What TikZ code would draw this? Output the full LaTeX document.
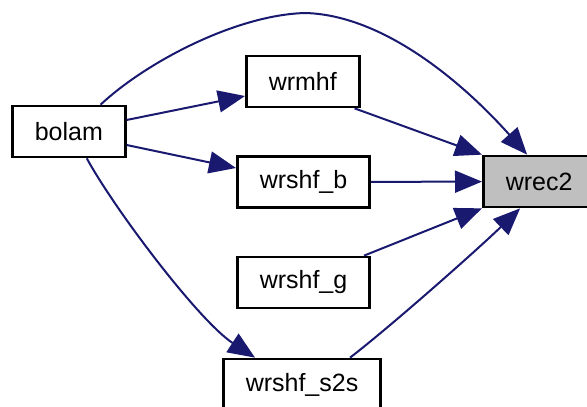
\documentclass[tikz,border=0pt]{standalone}
\usepackage{fontspec}
\newfontfamily\fuenteGrafo{Liberation Sans}
\usetikzlibrary{arrows.meta, positioning, calc}
\definecolor{azulnoche}{HTML}{191970}
\definecolor{grisactual}{HTML}{BFBFBF}
\colorlet{colBorde}{black}
\colorlet{colLlamada}{azulnoche}
\tikzset{
  cajaFuncion/.style={
    draw=colBorde, line width=1.35pt, anchor=west,
    minimum height=25.5pt, inner xsep=11.2pt,
    font=\fuenteGrafo\fontsize{12.5}{15}\selectfont, fill=white
  },
  cajaActual/.style={cajaFuncion, fill=grisactual},
  llamada/.style={-{Triangle[length=13.5pt, width=11pt]}, line width=1pt, colLlamada},
}
\begin{document}
\begin{tikzpicture}[x=0.5pt, y=-0.5pt]
    \useasboundingbox (0,0) rectangle (587,406);
    \node[cajaFuncion] (bolam) at (11,131.5) {bolam};
    \node[cajaFuncion] (wrmhf) at (245,81.5) {wrmhf};
    \node[cajaFuncion] (wrshfb) at (236,182) {wrshf\_b};
    \node[cajaFuncion] (wrshfg) at (236,282.5) {wrshf\_g};
    \node[cajaFuncion] (wrshfs2s) at (222,384.5) {wrshf\_s2s};
    \node[cajaActual] (wrec2) at (482,181.5) {wrec2};
    % llamadas desde bolam
    \draw[llamada] ($(bolam.east)+(0,-11.5)$) -- ($(wrmhf.west)+(0,14.5)$);
    \draw[llamada] ($(bolam.east)+(0,13.5)$) -- ($(wrshfb.west)+(0,-14)$);
    \draw[llamada] ($(bolam.north east)+(-26,0)$)
        .. controls (145,63) and (235,15) .. (305,13)
        .. controls (385,15) and (465,85) .. ($(wrec2.north)+(-12,0)$);
    \draw[llamada] ($(bolam.south)+(18,0)$)
        .. controls (115,210) and (199,321) .. ($(wrshfs2s.north)+(-47,0)$);
    % llamadas hacia wrec2
    \draw[llamada] ($(wrmhf.south east)+(-6,0)$) -- (wrec2.north west);
    \draw[llamada] (wrshfb) -- (wrec2);
    \draw[llamada] ($(wrshfg.north east)+(-7,0)$) -- (wrec2.south west);
    \draw[llamada] ($(wrshfs2s.north)+(48,0)$)
        .. controls (390,327) and (477,250) .. ($(wrec2.south)+(-19,0)$);
  \end{tikzpicture}
\end{document}
